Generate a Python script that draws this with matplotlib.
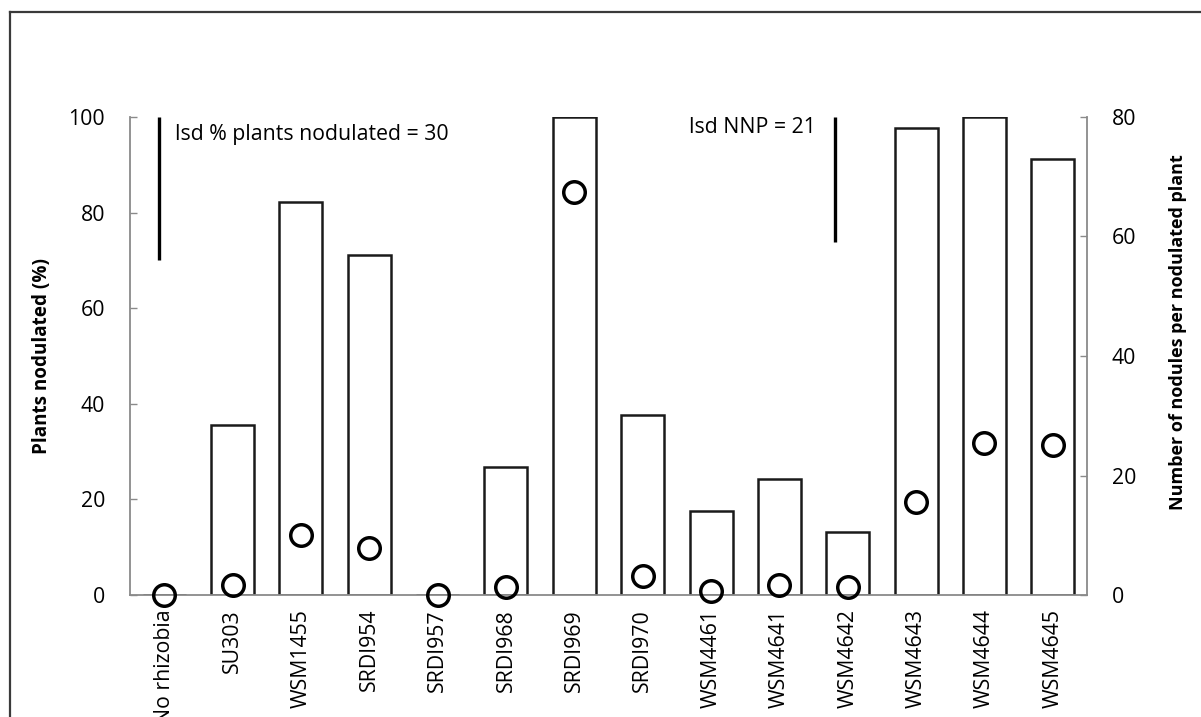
import matplotlib
matplotlib.use("Agg")
import matplotlib.pyplot as plt
from matplotlib.lines import Line2D

# Rhizobia strains tested
strains = ["No rhizobia", "SU303", "WSM1455", "SRDI954", "SRDI957", "SRDI968",
           "SRDI969", "SRDI970", "WSM4461", "WSM4641", "WSM4642", "WSM4643",
           "WSM4644", "WSM4645"]
# Percentage of plants nodulated (bars, left axis)
plants_nodulated = [0, 35.6, 82.2, 71.1, 0, 26.8, 100, 37.7, 17.6, 24.3, 13.2, 97.8, 100, 91.2]
# Number of nodules per nodulated plant (circles, right axis)
nodules_per_plant = [0, 1.7, 10.0, 7.8, 0, 1.3, 67.5, 3.1, 0.7, 1.6, 1.3, 15.6, 25.4, 25.1]
# Least significant differences
lsd_pct = 30
lsd_nnp = 21

left_ticks = [0, 20, 40, 60, 80, 100]
right_ticks = [0, 20, 40, 60, 80]

plt.rcParams["font.family"] = ["Open Sans", "DejaVu Sans"]
FS = 15.3
GREY = "#8a8a8a"

fig = plt.figure(figsize=(12.01, 7.17), dpi=100)
ax = fig.add_axes([130 / 1201, 122 / 717, 957 / 1201, 478 / 717])
ax2 = ax.twinx()

x = list(range(len(strains)))
ax.bar(x, plants_nodulated, width=0.63, facecolor="white", edgecolor="#1a1a1a",
       linewidth=1.8, zorder=2)
ax2.plot(x, nodules_per_plant, linestyle="none", marker="o", markersize=15.5,
         markerfacecolor="none", markeredgecolor="black", markeredgewidth=2.5,
         clip_on=False, zorder=5)

ax.set_xlim(-0.5, len(strains) - 0.5)
ax.set_ylim(0, 100)
ax2.set_ylim(0, 80)
ax.set_yticks(left_ticks)
ax2.set_yticks(right_ticks)
ax.set_xticks(x)
ax.set_xticklabels(strains, rotation=90, fontsize=FS)

for a in (ax, ax2):
    a.spines["top"].set_visible(False)
    for s in a.spines.values():
        s.set_color(GREY)
        s.set_linewidth(1.3)
ax.spines["right"].set_visible(False)
ax2.spines["left"].set_visible(False)
ax2.spines["bottom"].set_visible(False)

ax.tick_params(axis="y", direction="in", length=5, width=1, color=GREY,
               labelsize=FS, pad=18)
ax2.tick_params(axis="y", direction="in", length=5, width=1, color=GREY,
                labelsize=FS, pad=18)
ax.tick_params(axis="x", length=0, pad=10)

ax.set_ylabel("Plants nodulated (%)", fontsize=13.6, fontweight="bold")
ax.yaxis.set_label_coords(-0.0815, 0.5)
ax2.set_ylabel("Number of nodules per nodulated plant", fontsize=13.0,
               fontweight="bold")
ax2.yaxis.set_label_coords(1.086, 0.55)

# LSD bars
ax.plot([-0.07, -0.07], [100 - lsd_pct, 100], color="black", linewidth=2.4,
        solid_capstyle="butt", zorder=3)
ax.text(0.16, 96.3, f"lsd % plants nodulated = {lsd_pct}", fontsize=FS,
        ha="left", va="center")
ax2.plot([9.82, 9.82], [80 - lsd_nnp, 80], color="black", linewidth=2.4,
         solid_capstyle="butt", zorder=3)
ax2.text(9.53, 78.2, f"lsd NNP = {lsd_nnp}", fontsize=FS, ha="right", va="center")

# Outer frame
fx0 = 10 / 1201
fy1 = 1 - 12 / 717
fig.add_artist(Line2D([fx0, 1.0], [fy1, fy1], transform=fig.transFigure,
                      color="#3a3a3a", linewidth=1.6))
fig.add_artist(Line2D([fx0, fx0], [0.0, fy1], transform=fig.transFigure,
                      color="#3a3a3a", linewidth=1.6))

fig.savefig("out.png", dpi=100, facecolor="white")
